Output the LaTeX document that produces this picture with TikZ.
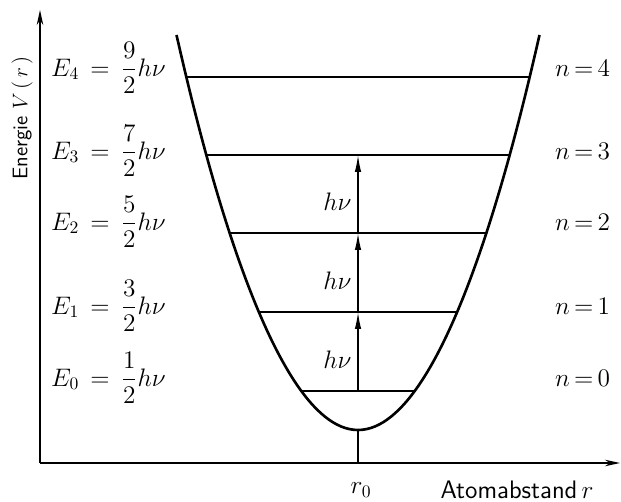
\documentclass[tikz,border=0pt]{standalone}
\usepackage{amsmath}
\usepackage{amssymb}
\usepackage{tikz}
\usetikzlibrary{arrows.meta}

\begin{document}
\begin{tikzpicture}[
axis/.style={line width=1pt,-{Stealth[length=3mm,width=1.3mm]}},
pot/.style={line width=1.5pt},
lev/.style={line width=1pt},
jump/.style={line width=0.8pt,-{Latex[length=3.4mm,width=1.3mm]}},
lab/.style={font=\large},
big/.style={font=\Large}]

\useasboundingbox (0,0) rectangle (12.42,10.02);

\coordinate (O) at (0.8,0.76);\coordinate (ytop) at (0.8,9.82);\coordinate (xend) at (12.4,0.76);
\draw [axis] (O)--(ytop);\draw [axis] (O)--(xend);

%potential
\coordinate (V) at (7.16,1.42);\coordinate (r0) at (7.16,0.76);
\coordinate (pl) at (3.53,9.32);\coordinate (pr) at (10.79,9.32);
\draw [pot] (pl) parabola bend (V) (pr);
\draw [lev] (V)--(r0);

%levels
\coordinate (a0) at (6.02,2.2);\coordinate (m0) at (7.16,2.2);\coordinate (b0) at (8.30,2.2);
\coordinate (a1) at (5.18,3.78);\coordinate (m1) at (7.16,3.78);\coordinate (b1) at (9.14,3.78);
\coordinate (a2) at (4.59,5.36);\coordinate (m2) at (7.16,5.36);\coordinate (b2) at (9.73,5.36);
\coordinate (a3) at (4.13,6.92);\coordinate (m3) at (7.16,6.92);\coordinate (b3) at (10.19,6.92);
\coordinate (a4) at (3.73,8.48);\coordinate (b4) at (10.59,8.48);

\draw [lev] (a0)--(b0);\draw [lev] (a1)--(b1);\draw [lev] (a2)--(b2);\draw [lev] (a3)--(b3);\draw [lev] (a4)--(b4);

%transitions
\draw [jump] (m0)-- node [big,left,pos=0.4] (hv1) {$h\nu$} (m1);
\draw [jump] (m1)-- node [big,left,pos=0.4] (hv2) {$h\nu$} (m2);
\draw [jump] (m2)-- node [big,left,pos=0.4] (hv3) {$h\nu$} (m3);

%energies
\node [big,anchor=west] (E4) at (0.9,8.66) {$E_4 \,=\, \dfrac{9}{2}h\nu$};
\node [big,anchor=west] (E3) at (0.9,7.0) {$E_3 \,=\, \dfrac{7}{2}h\nu$};
\node [big,anchor=west] (E2) at (0.9,5.58) {$E_2 \,=\, \dfrac{5}{2}h\nu$};
\node [big,anchor=west] (E1) at (0.9,3.9) {$E_1 \,=\, \dfrac{3}{2}h\nu$};
\node [big,anchor=west] (E0) at (0.9,2.46) {$E_0 \,=\, \dfrac{1}{2}h\nu$};

\node [big,anchor=west] (n4) at (10.98,8.66) {$n\,{=}\,4$};
\node [big,anchor=west] (n3) at (10.98,7.0) {$n\,{=}\,3$};
\node [big,anchor=west] (n2) at (10.98,5.58) {$n\,{=}\,2$};
\node [big,anchor=west] (n1) at (10.98,3.9) {$n\,{=}\,1$};
\node [big,anchor=west] (n0) at (10.98,2.46) {$n\,{=}\,0$};

%axis labels
\node [lab,rotate=90] (ylab) at (0.44,7.66) {\sffamily Energie $V\,(\,r\,)$};
\node [big] (xlab) at (10.34,0.22) {\sffamily Atomabstand\,$r$};
\node [big] (rlab) at (7.22,0.22) {$r_0$};

\end{tikzpicture}
\end{document}
